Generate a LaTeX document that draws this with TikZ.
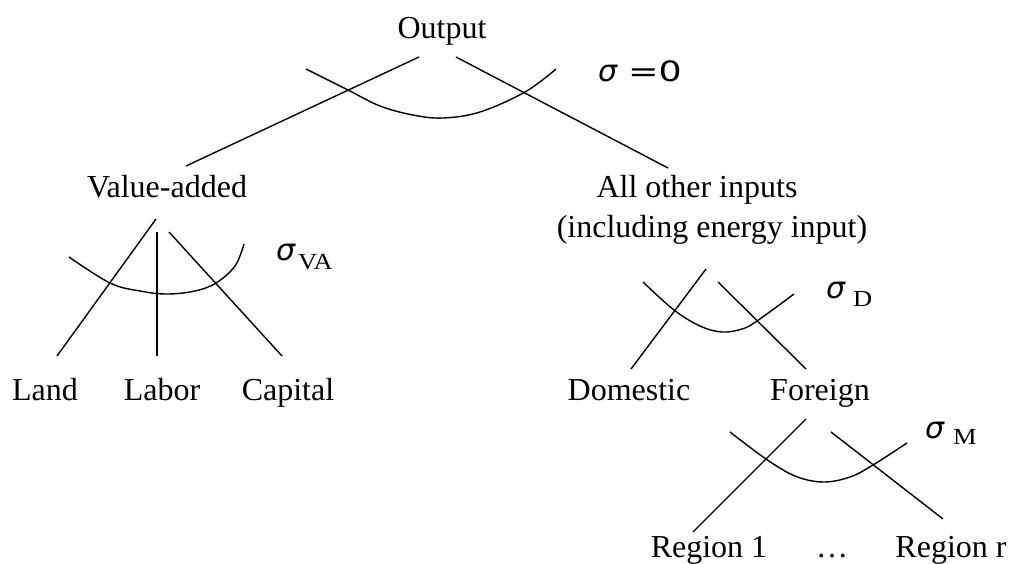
\documentclass[tikz,border=0pt]{standalone}
\usepackage{fontspec}
\setmainfont{Liberation Serif}
\newfontfamily\sigfont{DejaVu Sans}
\begin{document}
\begin{tikzpicture}[x=1pt,y=-1pt,line width=1.4pt,
  every node/.style={inner sep=0pt,outer sep=0pt},
  lbl/.style={font=\fontsize{32}{38}\selectfont,anchor=base},
  sig/.style={font=\sigfont\fontsize{30}{34}\selectfont\itshape,anchor=base west},
  sub/.style={font=\fontsize{23}{27}\selectfont,anchor=base west},
  arm/.style={draw,line width=1.4pt},
  iso/.style={draw,line width=1.4pt,smooth,tension=0.6}]
\useasboundingbox (0,0) rectangle (1013,564);
% text nodes
\node[lbl] (out) at (442,39) {Output};
\node[lbl] (va) at (167,198) {Value-added};
\node[lbl] (ao1) at (697,198) {All other inputs};
\node[lbl] (ao2) at (712,238) {(including energy input)};
\node[lbl] (land) at (45,400) {Land};
\node[lbl] (labor) at (162,400) {Labor};
\node[lbl] (cap) at (288,400) {Capital};
\node[lbl] (dom) at (629,400) {Domestic};
\node[lbl] (for) at (820,400) {Foreign};
\node[lbl] (r1) at (709,557) {Region 1};
\node[lbl] (dots) at (832,557) {\dots};
\node[lbl] (rr) at (951,557) {Region r};
% sigma labels
\node[sig] (s0) at (598,82) {σ};
\node[anchor=base west,font=\sigfont\fontsize{28}{32}\selectfont] (s0b) at (628,82) {\scalebox{1.3}[1]{=0}};
\node[sig] (sva) at (276,261) {σ};
\node[sub] (sva2) at (298,270) {\scalebox{1.15}[1]{VA}};
\node[sig] (sd) at (826,299) {σ};
\node[sub] (sd2) at (853,307) {\scalebox{1.15}[1]{D}};
\node[sig] (sm) at (925,438) {σ};
\node[sub] (sm2) at (953,444) {\scalebox{1.15}[1]{M}};
% connector end points
\coordinate (outL) at (419,57);  \coordinate (vaT) at (186,166);
\coordinate (outR) at (456,57);  \coordinate (aoT) at (668,168);
\coordinate (vaL) at (156,219);  \coordinate (landT) at (57,356);
\coordinate (vaM) at (157,232);  \coordinate (laborT) at (157,356);
\coordinate (vaR) at (169,232);  \coordinate (capT) at (282,356);
\coordinate (aoL) at (706,269);  \coordinate (domT) at (631,369);
\coordinate (aoR) at (718,282);  \coordinate (forT) at (806,369);
\coordinate (forL) at (806,419); \coordinate (r1T) at (693,532);
\coordinate (forR) at (831,432); \coordinate (rrT) at (943,519);
% connectors
\draw[arm] (outL) -- (vaT);
\draw[arm] (outR) -- (aoT);
\draw[arm] (vaL) -- (landT);
\draw[arm] (vaM) -- (laborT);
\draw[arm] (vaR) -- (capT);
\draw[arm] (aoL) -- (domT);
\draw[arm] (aoR) -- (forT);
\draw[arm] (forL) -- (r1T);
\draw[arm] (forR) -- (rrT);
% isoquant curves
\draw[iso] plot coordinates {(306,69) (348,90) (380,106) (413,115) (443,118) (480,112) (525,92) (556,69)};
\draw[iso] plot coordinates {(69,257) (110,283) (140,291) (167,294) (195,291) (216,283) (235,266) (244,244)};
\draw[iso] plot coordinates {(643,282) (674,310) (700,326) (722,332) (742,329) (757,321) (794,294)};
\draw[iso] plot coordinates {(730,432) (766,459) (795,476) (823,482) (850,477) (873,465) (907,443)};
\end{tikzpicture}
\end{document}
